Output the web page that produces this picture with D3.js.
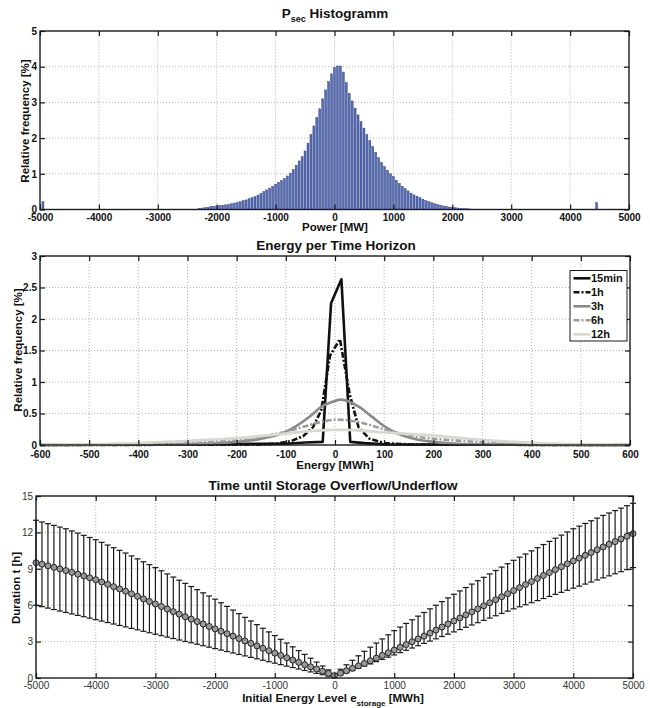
<!DOCTYPE html>
<meta charset="utf-8">
<head>
    <style>
        body { margin: 0; background: #fff; }
        svg { display: block; font-family: 'Liberation Sans', Arial, sans-serif; }
        .grid line { stroke: #a0a0a0; stroke-width: 0.8; stroke-dasharray: 1, 2; }
        .axis text { font-size: 10px; font-weight: bold; fill: #111; font-family: 'Liberation Sans', Arial, sans-serif; }
        .axis.thin text { font-weight: normal; fill: #333; }
        .axis line { stroke: #1a1a1a; stroke-width: 1.2; }
        .title { font-size: 13.5px; font-weight: bold; text-anchor: middle; fill: #111; }
        .label { font-size: 11.5px; font-weight: bold; text-anchor: middle; fill: #111; }
        .legend text { font-size: 11px; font-weight: bold; fill: #111; }
    </style>
</head>
<body>
    <svg width="650" height="708"></svg>

    <script src="https://d3js.org/d3.v7.min.js"></script>

    <script type="text/javascript">

        // ---- data: power histogram (bins of 50 MW starting at -2300)
        var histStart = -2300, histStep = 50;
        var histValues = [
            0.03, 0.04, 0.05, 0.06, 0.08, 0.09, 0.10, 0.11, 0.12, 0.13,
            0.14, 0.16, 0.18, 0.20, 0.22, 0.25, 0.27, 0.30, 0.33, 0.36,
            0.40, 0.45, 0.50, 0.55, 0.60, 0.65, 0.71, 0.76, 0.81, 0.87,
            0.94, 1.02, 1.12, 1.24, 1.36, 1.48, 1.64, 1.86, 2.10, 2.34,
            2.58, 2.82, 3.10, 3.35, 3.58, 3.80, 3.98, 4.02, 4.02,
            3.85, 3.55, 3.25, 3.04, 2.84, 2.65, 2.46, 2.28, 2.10, 1.93,
            1.76, 1.60, 1.45, 1.32, 1.20, 1.10, 1.00, 0.92, 0.82, 0.73,
            0.65, 0.58, 0.52, 0.46, 0.41, 0.37, 0.33, 0.29, 0.25, 0.22,
            0.19, 0.16, 0.14, 0.12, 0.10, 0.09, 0.07, 0.06, 0.05, 0.04,
            0.03, 0.025, 0.02, 0.015, 0.01, 0.008
        ];
        var outlierX = [-4950, 4450];
        var outlierValues = [0.22, 0.19];

        // ---- data: energy per time horizon
        var seriesNames = ["15min", "1h", "3h", "6h", "12h"];
        var energyX = [
            [-600, -100, -60, -25, -8, 13, 31, 60, 100, 600],
            [-600, -200, -150, -120, -90, -65, -45, -28, -10, 10, 30, 48, 70, 100, 150, 200, 600],
            [-600, -400, -300, -250, -200, -150, -100, -75, -50, -25, 0, 10, 25, 50, 75, 100, 125, 150, 200, 250, 300, 400, 600],
            [-600, -500, -400, -300, -250, -200, -150, -100, -50, -20, 0, 10, 30, 50, 100, 150, 200, 250, 300, 350, 400, 500, 600],
            [-600, -500, -400, -300, -200, -100, -50, 0, 20, 50, 100, 200, 300, 400, 500, 600]
        ];
        var energyY = [
            [0, 0.02, 0.04, 0.05, 2.25, 2.63, 0.05, 0.03, 0.01, 0],
            [0, 0.005, 0.01, 0.02, 0.06, 0.14, 0.28, 0.55, 1.42, 1.68, 0.8, 0.28, 0.1, 0.03, 0.01, 0.005, 0],
            [0, 0.003, 0.01, 0.025, 0.05, 0.1, 0.21, 0.32, 0.46, 0.62, 0.7, 0.72, 0.7, 0.6, 0.45, 0.3, 0.19, 0.12, 0.05, 0.02, 0.01, 0.003, 0],
            [0, 0.003, 0.01, 0.03, 0.05, 0.08, 0.13, 0.21, 0.32, 0.38, 0.4, 0.4, 0.39, 0.36, 0.25, 0.15, 0.1, 0.07, 0.045, 0.03, 0.015, 0.005, 0],
            [0.005, 0.012, 0.03, 0.065, 0.11, 0.18, 0.22, 0.24, 0.24, 0.23, 0.2, 0.15, 0.08, 0.035, 0.012, 0.005]
        ];
        var seriesStyle = [
            { color: "#111", dash: null, width: 2.6 },
            { color: "#111", dash: "6,2,2,2", width: 2.6 },
            { color: "#8a8a8a", dash: null, width: 2.6 },
            { color: "#9c9c9c", dash: "6,2,2,2", width: 2.6 },
            { color: "#d8d8ce", dash: null, width: 2.8 }
        ];

        // ---- data: time until storage overflow/underflow (every 100 MWh)
        var storageX = d3.range(-5000, 5001, 100);
        var durationMean = [
            9.50, 9.38, 9.25, 9.12, 8.99, 8.85, 8.71, 8.56, 8.41, 8.26,
            8.10, 7.91, 7.72, 7.53, 7.34, 7.15, 6.94, 6.73, 6.52, 6.31,
            6.10, 5.89, 5.68, 5.47, 5.26, 5.05, 4.85, 4.65, 4.45, 4.25,
            4.05, 3.85, 3.65, 3.45, 3.25, 3.05, 2.85, 2.65, 2.45, 2.25,
            2.05, 1.86, 1.67, 1.48, 1.29, 1.10, 0.92, 0.74, 0.56, 0.38,
            0.20,
            0.40, 0.60, 0.80, 1.00, 1.20, 1.42, 1.64, 1.86, 2.08, 2.30,
            2.53, 2.76, 2.99, 3.22, 3.45, 3.70, 3.95, 4.20, 4.45, 4.70,
            4.95, 5.20, 5.45, 5.70, 5.95, 6.20, 6.45, 6.70, 6.95, 7.20,
            7.45, 7.70, 7.95, 8.20, 8.45, 8.69, 8.93, 9.17, 9.41, 9.65,
            9.88, 10.11, 10.34, 10.57, 10.80, 11.02, 11.24, 11.46, 11.68, 11.90
        ];
        var durationUpper = [
            13.00, 12.86, 12.72, 12.58, 12.44, 12.30, 12.12, 11.94, 11.76, 11.58,
            11.40, 11.18, 10.96, 10.74, 10.52, 10.30, 10.06, 9.82, 9.58, 9.34,
            9.10, 8.84, 8.58, 8.32, 8.06, 7.80, 7.54, 7.28, 7.02, 6.76,
            6.50, 6.20, 5.90, 5.60, 5.30, 5.00, 4.70, 4.40, 4.10, 3.80,
            3.50, 3.19, 2.88, 2.57, 2.26, 1.95, 1.63, 1.31, 0.99, 0.67,
            0.35,
            0.72, 1.09, 1.46, 1.83, 2.20, 2.54, 2.88, 3.22, 3.56, 3.90,
            4.20, 4.50, 4.80, 5.10, 5.40, 5.70, 6.00, 6.30, 6.60, 6.90,
            7.18, 7.46, 7.74, 8.02, 8.30, 8.58, 8.86, 9.14, 9.42, 9.70,
            9.96, 10.22, 10.48, 10.74, 11.00, 11.26, 11.52, 11.78, 12.04, 12.30,
            12.52, 12.74, 12.96, 13.18, 13.40, 13.60, 13.80, 14.00, 14.20, 14.40
        ];
        var durationLower = [
            6.00, 5.88, 5.76, 5.64, 5.52, 5.40, 5.28, 5.16, 5.05, 4.93,
            4.81, 4.69, 4.57, 4.45, 4.33, 4.21, 4.09, 3.97, 3.85, 3.73,
            3.61, 3.49, 3.37, 3.25, 3.13, 3.01, 2.90, 2.78, 2.66, 2.54,
            2.42, 2.30, 2.18, 2.06, 1.94, 1.82, 1.70, 1.58, 1.46, 1.34,
            1.22, 1.10, 0.98, 0.86, 0.74, 0.62, 0.50, 0.38, 0.27, 0.15,
            0.05,
            0.24, 0.42, 0.61, 0.79, 0.98, 1.16, 1.35, 1.53, 1.72, 1.90,
            2.09, 2.28, 2.47, 2.66, 2.85, 3.04, 3.23, 3.42, 3.61, 3.80,
            3.99, 4.18, 4.37, 4.56, 4.75, 4.94, 5.13, 5.32, 5.51, 5.70,
            5.87, 6.04, 6.21, 6.38, 6.55, 6.72, 6.89, 7.06, 7.23, 7.40,
            7.57, 7.74, 7.91, 8.08, 8.25, 8.42, 8.59, 8.76, 8.93, 9.10
        ];

        // ---- tick values
        var powerTicks = d3.range(-5000, 5001, 1000);
        var freqTicks = [0, 1, 2, 3, 4, 5];
        var energyTicks = d3.range(-600, 601, 100);
        var freq2Ticks = [0, 0.5, 1, 1.5, 2, 2.5, 3];
        var durationTicks = [0, 3, 6, 9, 12, 15];

        var svg = d3.select("svg");

        var x1 = d3.scaleLinear().domain([-5000, 5000]).range([40, 629]);
        var y1 = d3.scaleLinear().domain([0, 5]).range([209.5, 31]);
        var x2 = d3.scaleLinear().domain([-600, 600]).range([40, 630]);
        var y2 = d3.scaleLinear().domain([0, 3]).range([445, 256]);
        var x3 = d3.scaleLinear().domain([-5000, 5000]).range([36, 633]);
        var y3 = d3.scaleLinear().domain([0, 15]).range([678, 496]);

        function grid(x, y, xt, yt) {
            var g = svg.append("g").attr("class", "grid");
            g.selectAll("line.v").data(xt.slice(1, -1)).enter().append("line")
                .attr("x1", function (d) { return x(d); }).attr("x2", function (d) { return x(d); })
                .attr("y1", y.range()[0]).attr("y2", y.range()[1]);
            g.selectAll("line.h").data(yt.slice(1, -1)).enter().append("line")
                .attr("y1", function (d) { return y(d); }).attr("y2", function (d) { return y(d); })
                .attr("x1", x.range()[0]).attr("x2", x.range()[1]);
        }

        function frame(x, y, xt, yt, pad, cls) {
            var b = y.range()[0], t = y.range()[1], l = x.range()[0], r = x.range()[1];
            var fmt = function (d) { return String(d); };
            function clean(g) { g.select(".domain").remove(); g.attr("font-size", null).attr("font-family", null); }

            svg.append("g").attr("class", "axis " + cls).attr("transform", "translate(0," + b + ")")
                .call(d3.axisBottom(x).tickValues(xt).tickSizeInner(-5).tickSizeOuter(0).tickPadding(pad).tickFormat(fmt))
                .call(clean);
            svg.append("g").attr("class", "axis").attr("transform", "translate(0," + t + ")")
                .call(d3.axisTop(x).tickValues(xt).tickSizeInner(-5).tickSizeOuter(0).tickFormat(""))
                .call(clean);
            svg.append("g").attr("class", "axis " + cls).attr("transform", "translate(" + l + ",0)")
                .call(d3.axisLeft(y).tickValues(yt).tickSizeInner(-5).tickSizeOuter(0).tickPadding(3).tickFormat(fmt))
                .call(clean);
            svg.append("g").attr("class", "axis").attr("transform", "translate(" + r + ",0)")
                .call(d3.axisRight(y).tickValues(yt).tickSizeInner(-5).tickSizeOuter(0).tickFormat(""))
                .call(clean);

            svg.append("rect")
                .attr("x", l).attr("y", t).attr("width", r - l).attr("height", b - t)
                .attr("fill", "none").attr("stroke", "#1a1a1a").attr("stroke-width", 1.4);
        }

        function yLabel(text, x, y) {
            svg.append("text").attr("class", "label")
                .attr("transform", "translate(" + x + "," + y + ") rotate(-90)")
                .text(text);
        }

        // =================== panel 1: histogram
        grid(x1, y1, powerTicks, freqTicks);

        var binW = (x1(histStep) - x1(0)) * 0.68;
        function bar(sel, xs) {
            sel.attr("x", function (d, i) { return x1(xs(i)) - binW / 2; })
                .attr("y", function (d) { return y1(d); })
                .attr("width", binW)
                .attr("height", function (d) { return y1(0) - y1(d); })
                .attr("fill", "#566db0")
                .attr("stroke", "#22327e")
                .attr("stroke-width", 0.4);
        }
        svg.append("g").selectAll("rect")
            .data(histValues)
            .enter().append("rect")
            .call(bar, function (i) { return histStart + i * histStep; });

        svg.append("g").selectAll("rect")
            .data(outlierValues)
            .enter().append("rect")
            .call(bar, function (i) { return outlierX[i]; });

        frame(x1, y1, powerTicks, freqTicks, 4.4, "");

        var t1 = svg.append("text").attr("class", "title").attr("x", 335).attr("y", 18);
        t1.append("tspan").text("P");
        t1.append("tspan").attr("font-size", "9px").attr("dy", 4).text("sec");
        t1.append("tspan").attr("dy", -4).text(" Histogramm");

        svg.append("text").attr("class", "label").attr("x", 335).attr("y", 231).text("Power [MW]");
        yLabel("Relative frequency [%]", 29, 121);

        // =================== panel 2: energy per time horizon
        grid(x2, y2, energyTicks, freq2Ticks);

        var line2 = d3.line()
            .x(function (d) { return x2(d[0]); })
            .y(function (d) { return y2(d[1]); });

        seriesNames.forEach(function (name, k) {
            var pts = energyX[k].map(function (v, i) { return [v, energyY[k][i]]; });
            var st = seriesStyle[k];
            svg.append("path")
                .datum(pts)
                .attr("d", line2.curve(k < 2 ? d3.curveLinear : d3.curveMonotoneX))
                .attr("fill", "none")
                .attr("stroke", st.color)
                .attr("stroke-width", st.width)
                .attr("stroke-dasharray", st.dash)
                .attr("stroke-linejoin", "round");
        });

        frame(x2, y2, energyTicks, freq2Ticks, 5.4, "");

        var legend = svg.append("g").attr("class", "legend");
        legend.append("rect")
            .attr("x", 570).attr("y", 270.5).attr("width", 57).attr("height", 70.5)
            .attr("fill", "#fff").attr("stroke", "#1a1a1a").attr("stroke-width", 1);
        var rows = legend.selectAll("g.row").data(seriesNames).enter().append("g")
            .attr("transform", function (d, i) { return "translate(0," + (278.3 + i * 14) + ")"; });
        rows.append("line")
            .attr("x1", 573.5).attr("x2", 590.5).attr("y1", 0).attr("y2", 0)
            .attr("stroke", function (d, i) { return seriesStyle[i].color; })
            .attr("stroke-width", function (d, i) { return seriesStyle[i].width; })
            .attr("stroke-dasharray", function (d, i) { return seriesStyle[i].dash; });
        rows.append("text").attr("x", 591).attr("y", 4).text(function (d) { return d; });

        svg.append("text").attr("class", "title").attr("x", 336).attr("y", 250).text("Energy per Time Horizon");
        svg.append("text").attr("class", "label").attr("x", 335).attr("y", 469).text("Energy [MWh]");
        yLabel("Relative frequency [%]", 22, 350);

        // =================== panel 3: time until overflow/underflow
        grid(x3, y3, powerTicks, durationTicks);

        var capW = 3;
        var bars = svg.append("g").attr("stroke", "#1a1a1a").attr("stroke-width", 1.2);
        bars.selectAll("line.bar").data(storageX).enter().append("line")
            .attr("x1", function (d) { return x3(d); }).attr("x2", function (d) { return x3(d); })
            .attr("y1", function (d, i) { return y3(durationLower[i]); })
            .attr("y2", function (d, i) { return y3(durationUpper[i]); });
        bars.selectAll("line.capU").data(storageX).enter().append("line")
            .attr("x1", function (d) { return x3(d) - capW; }).attr("x2", function (d) { return x3(d) + capW; })
            .attr("y1", function (d, i) { return y3(durationUpper[i]); })
            .attr("y2", function (d, i) { return y3(durationUpper[i]); });
        bars.selectAll("line.capL").data(storageX).enter().append("line")
            .attr("x1", function (d) { return x3(d) - capW; }).attr("x2", function (d) { return x3(d) + capW; })
            .attr("y1", function (d, i) { return y3(durationLower[i]); })
            .attr("y2", function (d, i) { return y3(durationLower[i]); });

        svg.append("g").selectAll("circle").data(storageX).enter().append("circle")
            .attr("cx", function (d) { return x3(d); })
            .attr("cy", function (d, i) { return y3(durationMean[i]); })
            .attr("r", 3)
            .attr("fill", "#999")
            .attr("stroke", "#222")
            .attr("stroke-width", 1);

        frame(x3, y3, powerTicks, durationTicks, 3.9, "thin");

        svg.append("text").attr("class", "title").attr("x", 333).attr("y", 490).text("Time until Storage Overflow/Underflow");
        var t3 = svg.append("text").attr("class", "label").attr("x", 333).attr("y", 702);
        t3.append("tspan").text("Initial Energy Level e");
        t3.append("tspan").attr("font-size", "8px").attr("dy", 4).text("storage");
        t3.append("tspan").attr("dy", -4).text(" [MWh]");
        yLabel("Duration t [h]", 20, 588);

    </script>
</body>
